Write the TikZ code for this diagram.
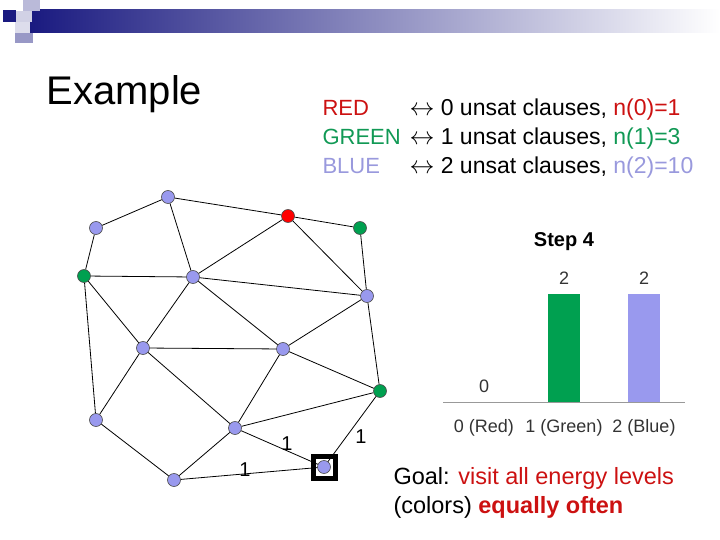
\documentclass[tikz,border=0pt]{standalone}
\usepackage{fontspec}
\setmainfont{Liberation Sans}
\definecolor{navy}{HTML}{1A1A80}
\definecolor{vblue}{HTML}{9999EE}
\definecolor{vgreen}{HTML}{00A050}
\definecolor{vred}{HTML}{FF0000}
\definecolor{tred}{HTML}{CC1111}
\definecolor{tgreen}{HTML}{119955}
\definecolor{tblue}{HTML}{9999DD}
\tikzset{
  vtx/.style={circle,draw=black!70,line width=0.6pt,inner sep=0pt,minimum size=13pt,fill=vblue},
  gvtx/.style={vtx,fill=vgreen},
  rvtx/.style={vtx,fill=vred},
  wt/.style={font=\fontsize{20}{20}\selectfont},
  legend/.style={anchor=base west,font=\fontsize{22}{22}\selectfont},
  axis/.style={font=\fontsize{18}{18}\selectfont,text=black!80}
}
\begin{document}
\begin{tikzpicture}[x=1pt,y=-1pt]
  \useasboundingbox (0,0) rectangle (720,540);

  % header band
  \shade[left color=navy,right color=white] (30,10) rectangle (720,33);
  \fill[navy!30] (23,0) rectangle (40,11);
  \fill[navy] (3,10) rectangle (16,22);
  \fill[navy!20] (16,11) rectangle (32,22);
  \fill[navy!15] (15,22) rectangle (30,33);
  \fill[navy!45] (15,33) rectangle (33,43);

  \node[anchor=base west,font=\fontsize{40}{40}\selectfont] (title) at (43,105) {Example};

  \node[legend,text=tred]   (lr) at (319,116) {RED};
  \node[legend,text=tgreen] (lg) at (319,145) {GREEN};
  \node[legend,text=tblue]  (lb) at (319,174) {BLUE};
  \node[legend,font=\fontsize{23}{23}\selectfont] at (406,116) {$\leftrightarrow$ 0 unsat clauses, \textcolor{tred}{n(0)=1}};
  \node[legend,font=\fontsize{23}{23}\selectfont] at (406,145) {$\leftrightarrow$ 1 unsat clauses, \textcolor{tgreen}{n(1)=3}};
  \node[legend,font=\fontsize{23}{23}\selectfont] at (406,174) {$\leftrightarrow$ 2 unsat clauses, \textcolor{tblue}{n(2)=10}};

  % graph
  \begin{scope}[line width=0.8pt]
  \node[vtx]  (a) at (168,197) {};
  \node[vtx]  (b) at (96,228) {};
  \node[gvtx] (c) at (84,276) {};
  \node[vtx]  (d) at (193,277) {};
  \node[rvtx] (e) at (288,216) {};
  \node[gvtx] (f) at (360,228) {};
  \node[vtx]  (g) at (367,296) {};
  \node[vtx]  (h) at (143,348) {};
  \node[vtx]  (i) at (283,349) {};
  \node[gvtx] (j) at (380,391) {};
  \node[vtx]  (k) at (96,420) {};
  \node[vtx]  (l) at (235,428) {};
  \node[vtx]  (m) at (174,480) {};
  \node[draw,line width=5pt,minimum size=22pt,inner sep=0pt] (box) at (324,467) {};
  \foreach \u/\v in {b/a,a/e,e/f,b/c,c/d,a/d,d/e,e/g,f/g,d/g,d/i,d/h,c/h,c/k,h/i,i/g,i/j,g/j,h/k,h/l,i/l,l/j,k/m,m/l}
    \draw (\u) -- (\v);
  \draw (l) -- (box.center);
  \draw (m) -- (box.center);
  \draw (j) -- (box.center);
  \node[vtx] (n) at (324,467) {};
  \end{scope}

  \node[wt] (w1) at (287,444) {1};
  \node[wt] (w2) at (245,470) {1};
  \node[wt] (w3) at (361,437) {1};

  % histogram
  \node[font=\bfseries\fontsize{20}{20}\selectfont] (step) at (564,242) {Step 4};
  \coordinate (base0) at (443,402);
  \coordinate (base1) at (685,402);
  \draw[black!40] (base0) -- (base1);
  \fill[vgreen] (548,294) rectangle (580,402);
  \fill[vblue]  (628,294) rectangle (660,402);
  \node[axis] (c0) at (484,386) {0};
  \node[axis] (c1) at (564,278) {2};
  \node[axis] (c2) at (644,278) {2};
  \node[axis] (x0) at (484,428) {0 (Red)};
  \node[axis] (x1) at (564,428) {1 (Green)};
  \node[axis] (x2) at (644,428) {2 (Blue)};

  \node[anchor=base west,font=\fontsize{23.5}{24}\selectfont] (goal1) at (390,484) {Goal: \textcolor{tred}{visit all energy levels}};
  \node[anchor=base west,font=\fontsize{23.5}{24}\selectfont] (goal2) at (390,513) {(colors) \textcolor{tred}{\bfseries equally often}};
\end{tikzpicture}
\end{document}
